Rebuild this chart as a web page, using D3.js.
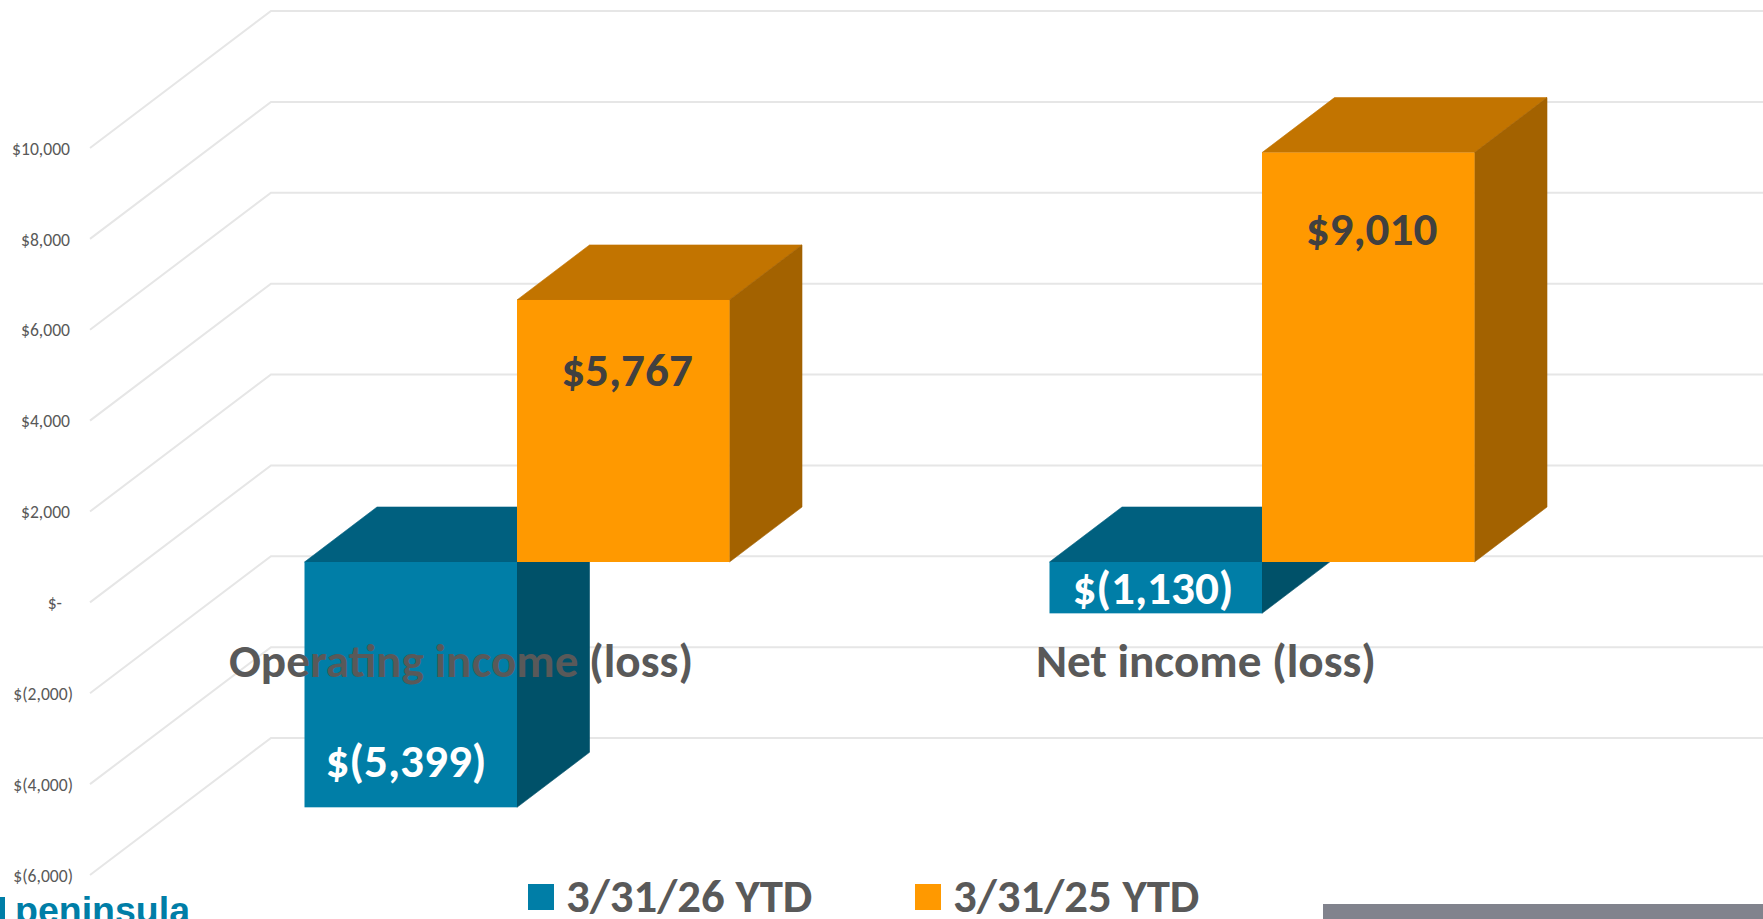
<!DOCTYPE html>
<html><head><meta charset="utf-8">
<style>html,body{margin:0;padding:0;background:#fff;overflow:hidden}svg{display:block}text{font-family:Carlito,Lato,"Open Sans",sans-serif}</style>
<script src="https://cdn.jsdelivr.net/npm/d3@7/dist/d3.min.js"></script>
</head><body><svg id="c" width="1763" height="919"></svg>
<script>
const categories = ["Operating income (loss)", "Net income (loss)"];
const seriesNames = ["3/31/26 YTD", "3/31/25 YTD"];
const values2026 = [-5399, -1130];
const values2025 = [5767, 9010];
const tickValues = [10000, 8000, 6000, 4000, 2000, 0, -2000, -4000, -6000];
const seriesColors = [
  {front:"#007ea7", top:"#00607f", side:"#005169", text:"#ffffff"},
  {front:"#ff9900", top:"#c27400", side:"#a36200", text:"#404040"}
];
const seriesValues = [values2026, values2025];

const W=1763,H=919;
const svg=d3.select("#c");
const yFront=d3.scaleLinear().domain([-6000,10000]).range([875,148]);
const wall={dx:181,dy:-137};
const barDepth={dx:72.5,dy:-55};
const baseShift=yFront(0)-562;
const y=v=>yFront(v)-baseShift;
const xCat=d3.scaleBand().domain(categories).range([145,1635]);
const xSer=d3.scaleBand().domain(seriesNames).range([-213,212]);
const fmtMoney=v=>{
  if(v===0) return "$-";
  const s=d3.format(",")(Math.abs(v));
  return v<0?`$(${s})`:`$${s}`;
};

// gridlines (floor diagonal + back wall)
const grid=svg.append("g");
grid.selectAll("path").data(tickValues).join("path")
  .attr("d",v=>d3.line()([[90,yFront(v)],[90+wall.dx,yFront(v)+wall.dy],[W,yFront(v)+wall.dy]]))
  .attr("fill","none").attr("stroke","#e6e6e6").attr("stroke-width",2);

// axis labels
const axis=d3.axisLeft(yFront).tickValues(tickValues).tickSize(0).tickFormat(fmtMoney);
const ga=svg.append("g").attr("transform","translate(74,0.5)").call(axis);
ga.select(".domain").remove();
ga.selectAll("text").attr("font-size",17.6).attr("fill","#595959").attr("x",0)
  .attr("dx",v=>v===0?-12:(v<0?-1:-4));

// 3-D bars
categories.forEach((cat,ci)=>{
  const cx=xCat(cat)+xCat.bandwidth()/2;
  seriesNames.forEach((name,si)=>{
    const v=seriesValues[si][ci], col=seriesColors[si];
    const x0=cx+xSer(name), x1=x0+xSer.bandwidth();
    const yTop=y(Math.max(v,0)), yBot=y(Math.min(v,0));
    const g=svg.append("g");
    const d=barDepth;
    g.append("path").attr("fill",col.top).attr("stroke",col.top).attr("stroke-width",0.6)
      .attr("d",d3.line()([[x0,yTop],[x0+d.dx,yTop+d.dy],[x1+d.dx,yTop+d.dy],[x1,yTop]])+"Z");
    g.append("path").attr("fill",col.side).attr("stroke",col.side).attr("stroke-width",0.6)
      .attr("d",d3.line()([[x1,yTop],[x1+d.dx,yTop+d.dy],[x1+d.dx,yBot+d.dy],[x1,yBot]])+"Z");
    g.append("rect").attr("x",x0).attr("y",yTop).attr("width",x1-x0).attr("height",yBot-yTop).attr("fill",col.front);
  });
});

// data labels
const labelPos=[[[406,760],[627,369]],[[1153,587],[1371.5,228]]];
categories.forEach((cat,ci)=>seriesNames.forEach((name,si)=>{
  svg.append("text").text(fmtMoney(seriesValues[si][ci]))
    .attr("x",labelPos[ci][si][0]).attr("y",labelPos[ci][si][1])
    .attr("dy","0.35em").attr("text-anchor","middle")
    .attr("font-size",47.2).attr("font-weight",700).attr("fill",seriesColors[si].text);
}));

// category labels
const catX=[461,1206];
categories.forEach((c,i)=>svg.append("text").text(c).attr("x",catX[i]).attr("y",660.5)
  .attr("dy","0.35em").attr("text-anchor","middle").attr("font-size",47.2).attr("font-weight",700).attr("fill","#595959"));

// legend
const legX=[528,915];
seriesNames.forEach((n,i)=>{
  svg.append("rect").attr("x",legX[i]).attr("y",884).attr("width",26).attr("height",26).attr("fill",seriesColors[i].front);
  svg.append("text").text(n).attr("x",legX[i]+38).attr("y",895.5).attr("dy","0.35em")
    .attr("font-size",46.8).attr("font-weight",700).attr("fill","#595959");
});

// footer
svg.append("rect").attr("x",0).attr("y",897).attr("width",5).attr("height",22).attr("fill","#007ea7");
svg.append("text").text("peninsula").attr("x",15).attr("y",923).attr("font-size",37.5).attr("font-weight",700)
  .style("font-family","'Liberation Sans',Arial,sans-serif").attr("fill","#007ea7");
svg.append("rect").attr("x",1323).attr("y",904).attr("width",440).attr("height",15).attr("fill","#81838d");
</script></body></html>
